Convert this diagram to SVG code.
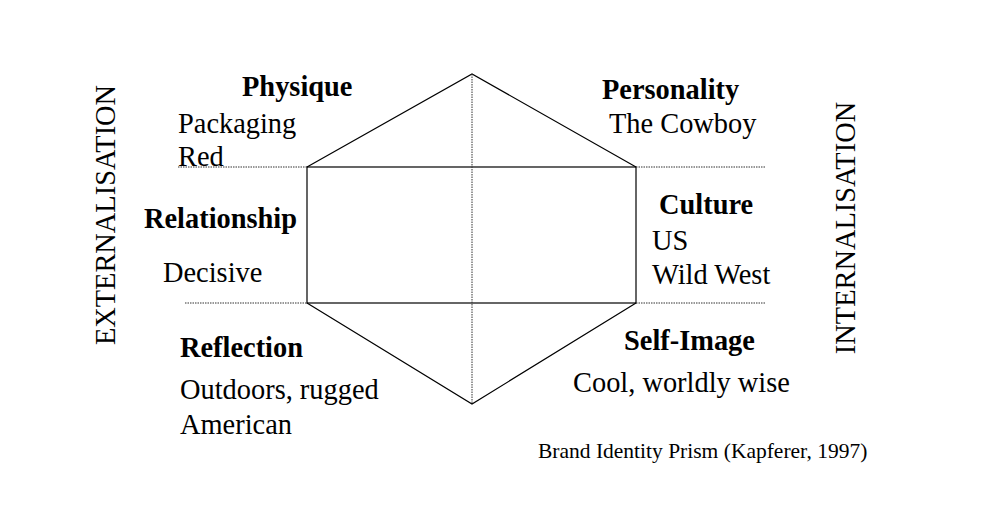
<svg xmlns="http://www.w3.org/2000/svg" width="1000" height="520" viewBox="0 0 1000 520">
<style>
text{font-family:"Liberation Serif","Times New Roman",serif;font-size:28.4px;fill:#000}
.b{font-weight:bold}
.s{font-size:21.5px}
.solid{fill:none;stroke:#000;stroke-width:1.2}
.dot{fill:none;stroke:#333;stroke-width:1;stroke-dasharray:1.5 1}
</style>
<rect width="1000" height="520" fill="#fff"/>
<g id="connectors">
<polyline class="solid" points="307,167 472,74 636,167"/>
<rect class="solid" x="307" y="167" width="329" height="136"/>
<polyline class="solid" points="307,303 472,404 636,303"/>
<line class="dot" x1="472" y1="74" x2="472" y2="404"/>
<line class="dot" x1="178" y1="167" x2="307" y2="167"/>
<line class="dot" x1="636" y1="167" x2="765" y2="167"/>
<line class="dot" x1="185" y1="303" x2="307" y2="303"/>
<line class="dot" x1="636" y1="303" x2="765" y2="303"/>
</g>
<g id="physique"><text class="b" x="242" y="96">Physique</text><text x="178" y="133">Packaging</text><text x="178" y="166">Red</text></g>
<g id="personality"><text class="b" x="602" y="99">Personality</text><text x="609" y="133">The Cowboy</text></g>
<g id="relationship"><text class="b" x="144" y="228">Relationship</text><text x="163" y="282">Decisive</text></g>
<g id="culture"><text class="b" x="659" y="214">Culture</text><text x="652" y="250">US</text><text x="652" y="284">Wild West</text></g>
<g id="reflection"><text class="b" x="180" y="357">Reflection</text><text x="180" y="399">Outdoors, rugged</text><text x="180" y="434">American</text></g>
<g id="selfimage"><text class="b" x="624" y="350">Self-Image</text><text x="573" y="392">Cool, worldly wise</text></g>
<g id="externalisation"><text text-anchor="middle" transform="translate(115,215) rotate(-90)">EXTERNALISATION</text></g>
<g id="internalisation"><text text-anchor="middle" transform="translate(855,228) rotate(-90)">INTERNALISATION</text></g>
<g id="caption"><text class="s" x="538" y="458">Brand Identity Prism (Kapferer, 1997)</text></g>
</svg>
